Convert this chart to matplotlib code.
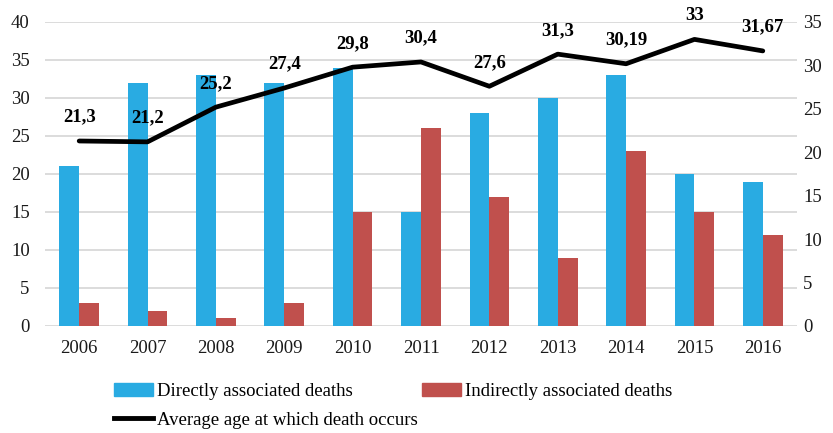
import numpy as np
import matplotlib.pyplot as plt
from matplotlib.patches import Patch
from matplotlib.lines import Line2D

years = ["2006", "2007", "2008", "2009", "2010", "2011", "2012", "2013", "2014", "2015", "2016"]
direct_deaths = [21, 32, 33, 32, 34, 15, 28, 30, 33, 20, 19]
indirect_deaths = [3, 2, 1, 3, 15, 26, 17, 9, 23, 15, 12]
avg_age = [21.3, 21.2, 25.2, 27.4, 29.8, 30.4, 27.6, 31.3, 30.19, 33, 31.67]
avg_age_labels = ["21,3", "21,2", "25,2", "27,4", "29,8", "30,4", "27,6", "31,3", "30,19", "33", "31,67"]

blue = "#29abe2"
red = "#c0504d"
fs = 13.5

plt.rcParams["font.family"] = ["Liberation Serif", "DejaVu Serif"]

fig = plt.figure(figsize=(8.33, 4.33), dpi=100)
ax = fig.add_axes([45 / 833, 1 - 326 / 433, (797 - 45) / 833, (326 - 22) / 433])
ax2 = ax.twinx()

x = np.arange(len(years))
width = 0.29
ax.bar(x - width / 2, direct_deaths, width=width, color=blue, zorder=2)
ax.bar(x + width / 2, indirect_deaths, width=width, color=red, zorder=2)

ax.set_xlim(-0.5, len(years) - 0.5)
ax.set_ylim(0, 40)
ax.set_yticks(range(0, 41, 5))
ax.set_xticks(x)
ax.set_xticklabels(years)
ax.grid(axis="y", color="#d9d9d9", linewidth=1.3, zorder=0)
ax.set_axisbelow(True)

ax2.plot(x, avg_age, color="black", linewidth=3.4, solid_capstyle="round", zorder=3)
for xi, v, lab in zip(x, avg_age, avg_age_labels):
    ax2.annotate(lab, (xi, v), xytext=(0, 11), textcoords="offset points",
                 ha="center", va="bottom", fontsize=fs, fontweight="bold")
ax2.set_ylim(0, 35)
ax2.set_yticks(range(0, 36, 5))

for a in (ax, ax2):
    for s in a.spines.values():
        s.set_visible(False)
    a.tick_params(length=0, labelsize=fs, colors="#1a1a1a")
ax.tick_params(axis="x", pad=10)
ax.tick_params(axis="y", pad=11)
ax2.tick_params(axis="y", pad=4.5)

handles = [Patch(color=blue), Line2D([], [], color="black", linewidth=3.5),
           Patch(color=red)]
labels = ["Directly associated deaths", "Average age at which death occurs",
          "Indirectly associated deaths"]
fig.legend(handles, labels, ncol=2, loc="upper left",
           bbox_to_anchor=(97 / 833, 1 - 366 / 433),
           frameon=False, fontsize=fs, handlelength=2.1, handletextpad=0.2,
           columnspacing=0.2, labelspacing=0.62)

fig.savefig("out.png", dpi=100)
